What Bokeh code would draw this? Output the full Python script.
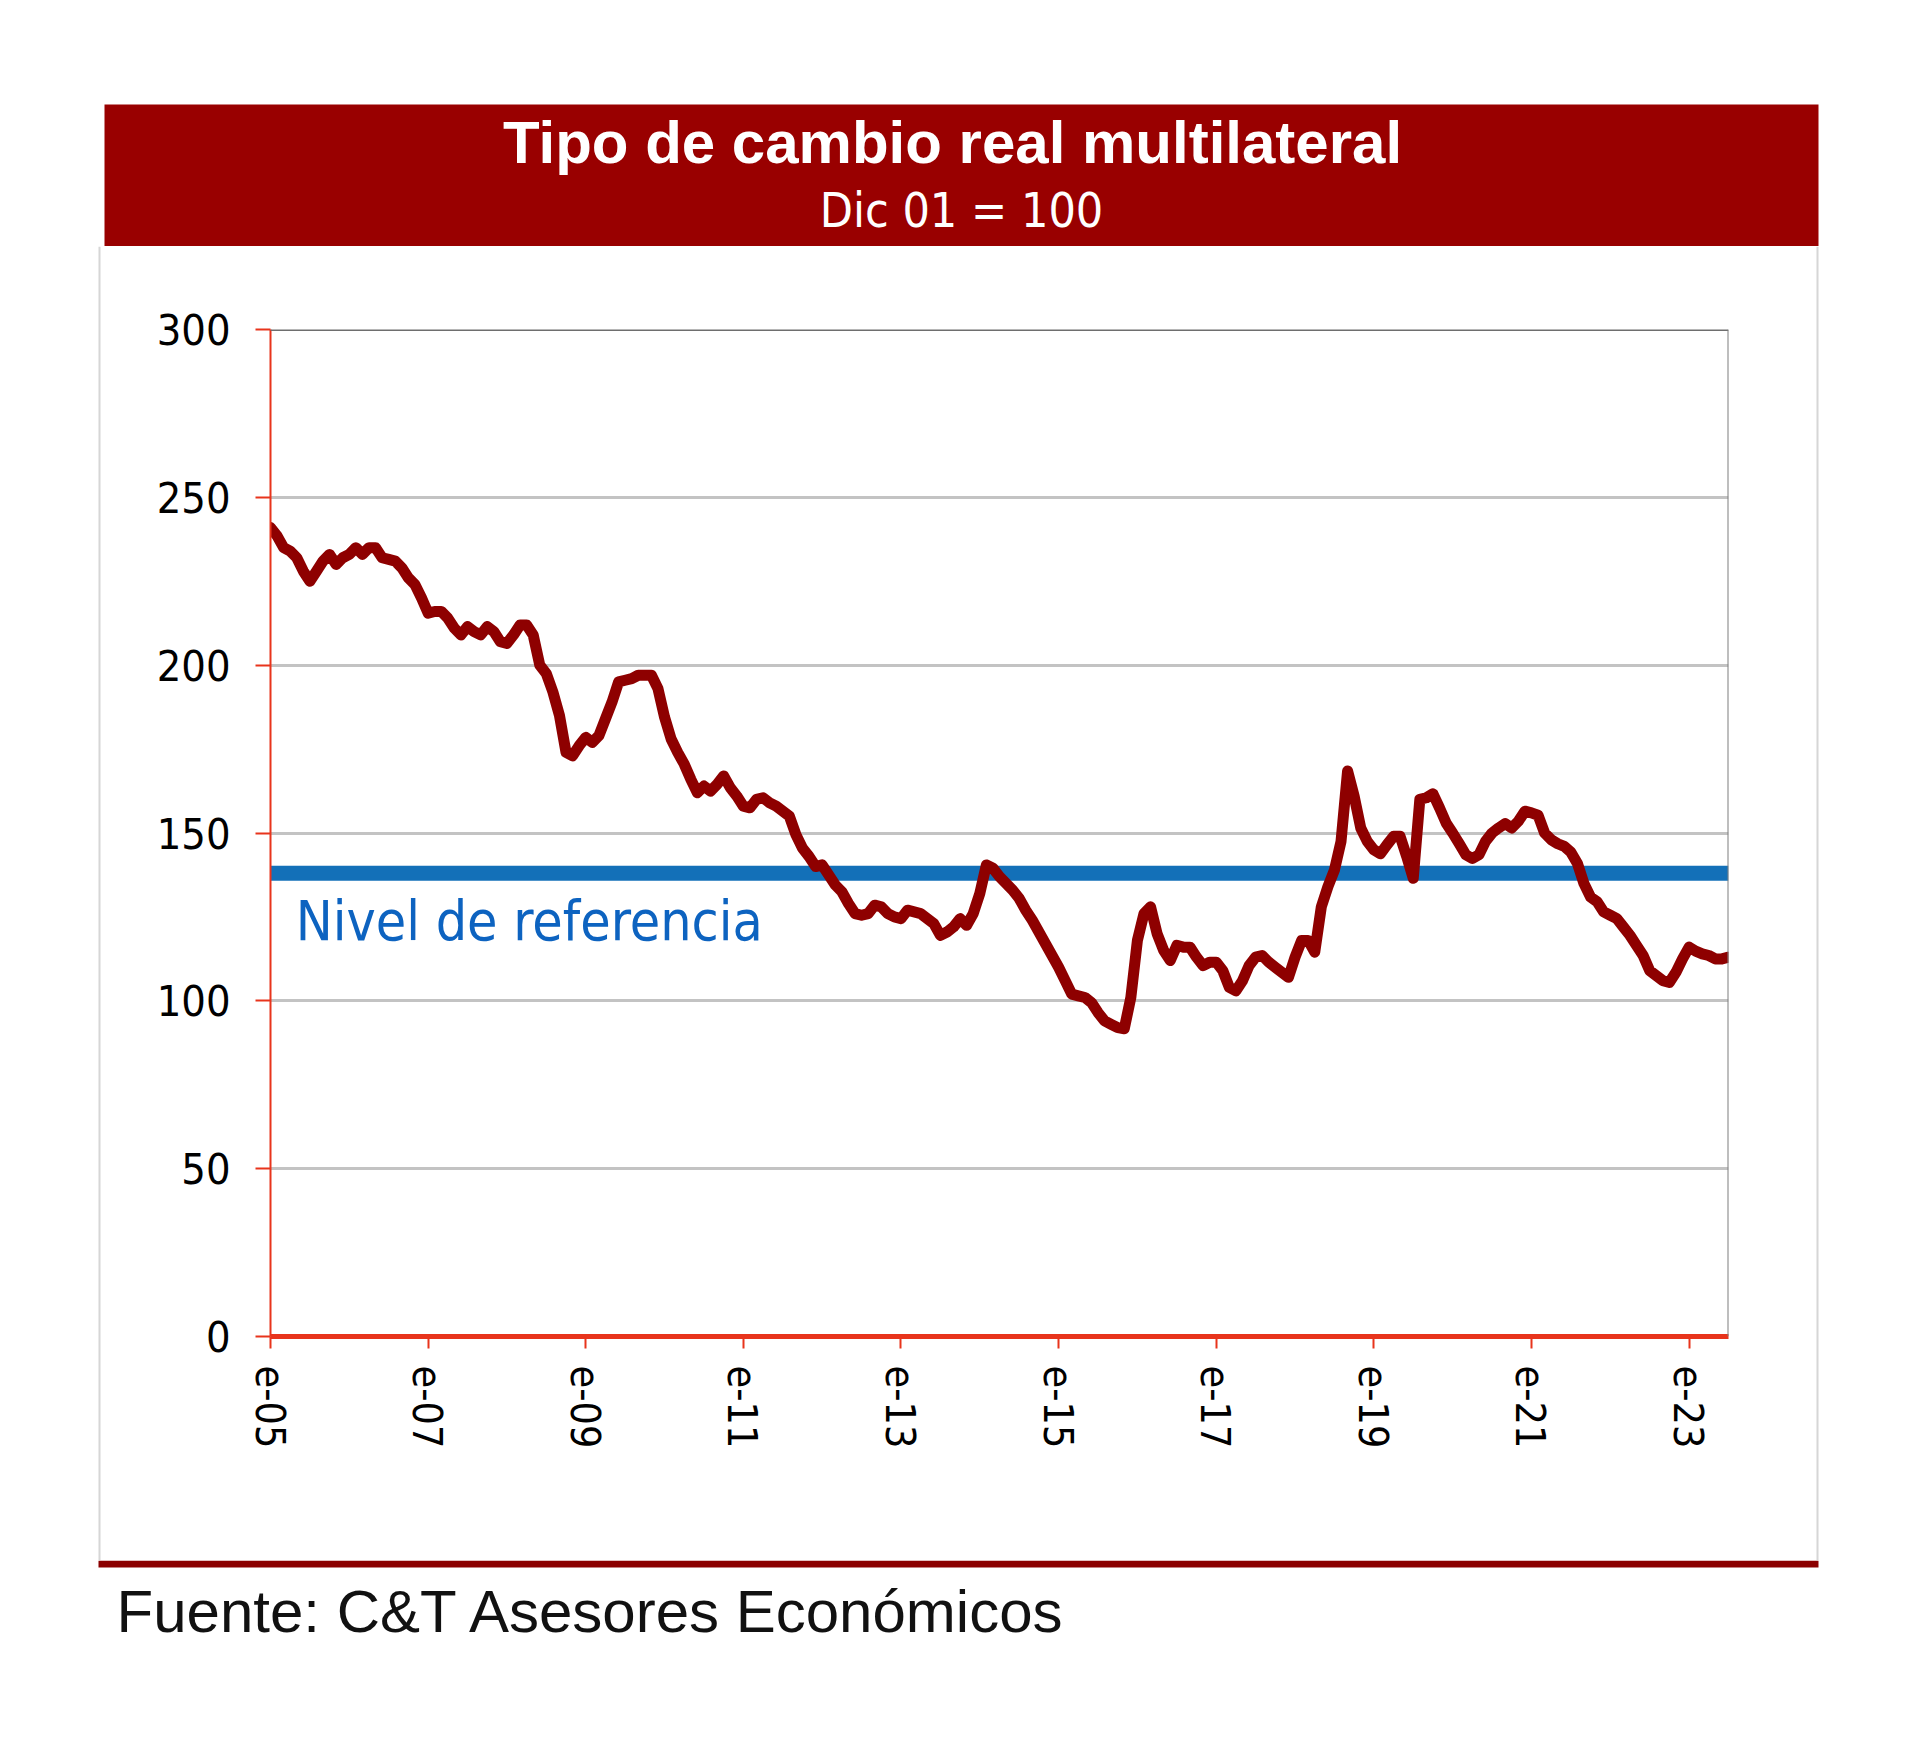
import pandas as pd
from bokeh.plotting import figure
from bokeh.models import Range1d, FixedTicker, Span
from bokeh.layouts import column, row
from bokeh.core.properties import value
from bokeh.embed import file_html
from bokeh.resources import INLINE

# ---------------- data ----------------
start_month = "2005-01"
tcrm = [
    241, 238.5, 235, 234, 232, 228, 225, 228, 231, 233, 230, 232,
    233, 235, 233, 235, 235, 232, 231.5, 231, 229, 226, 224, 220,
    215.5, 216, 216, 214, 211, 209, 211.5, 210, 209, 211.5, 210, 207,
    206.5, 209, 212, 212, 209, 200, 197.5, 192, 185, 174, 173, 176,
    178.5, 177, 179, 184, 189, 195, 195.5, 196, 197, 197, 197, 193,
    184.5, 178, 174, 170.5, 166, 162, 164, 162.5, 164.5, 167, 163.5, 161,
    158, 157.5, 160, 160.5, 159, 158, 156.5, 155, 149.5, 145.5, 143, 140,
    140.5, 137.5, 134.5, 132.5, 129, 126, 125.5, 126, 128.5, 128, 126, 125,
    124.5, 127, 126.5, 126, 124.5, 123, 119.5, 120.5, 122, 124.5, 122.5, 126,
    132, 140.5, 139.5, 137, 135, 133, 130.5, 127, 124, 120.5, 117, 113.5,
    110, 106, 102, 101.5, 101, 99.5, 96.5, 94, 93, 92, 91.7, 101,
    118, 126, 128, 120, 115, 112, 116.5, 116, 116, 113, 110.5, 111.5,
    111.5, 109, 104, 103, 106, 110.5, 113, 113.5, 111.5, 110, 108.5, 107,
    113, 118, 118, 114.5, 128, 134, 139, 147.5, 168.5, 161, 151.5, 147.5,
    145, 143.8, 146.5, 149, 149, 143, 136.5, 160, 160.5, 161.7, 157.5, 153,
    150, 146.8, 143.5, 142.4, 143.5, 147.5, 150, 151.5, 152.8, 151.5, 153.5, 156.5,
    156, 155.3, 150, 148, 146.8, 146, 144.3, 140.9, 134.9, 130.9, 129.5, 126.5,
    125.5, 124.5, 122, 119.5, 116.5, 113.5, 109, 107.5, 106, 105.5, 108.5, 112.5,
    116, 114.8, 114, 113.5, 112.5, 112.5, 113,
]
reference_level = 138
title_text = "Tipo de cambio real multilateral"
subtitle_text = "Dic 01 = 100"
source_text = "Fuente: C&T Asesores Económicos"
ref_label = "Nivel de referencia"
y_ticks = [0, 50, 100, 150, 200, 250, 300]
y_grid = [50, 100, 150, 200, 250]
x_tick_years = [2005, 2007, 2009, 2011, 2013, 2015, 2017, 2019, 2021, 2023]
x_tick_labels = ["e-05", "e-07", "e-09", "e-11", "e-13", "e-15", "e-17", "e-19", "e-21", "e-23"]

dates = pd.date_range(start_month, periods=len(tcrm), freq="MS")
xs = [d.year + (d.month - 1) / 12 for d in dates]

NARROW = "'DejaVu Sans Condensed', 'Liberation Sans Narrow', sans-serif"
SANS = "'Liberation Sans', Arial, sans-serif"
LINE_RED = "#8e0000"
BAND_RED = "#990000"
AXIS_RED = "#e8341c"
BLUE = "#1370b8"
BLUE_TXT = "#0d63c0"


def canvas(w, h, x0, y0):
    f = figure(width=w, height=h, x_range=Range1d(x0, x0 + w), y_range=Range1d(y0 + h, y0),
               output_backend="svg", toolbar_location=None, min_border=0,
               x_axis_location=None, y_axis_location=None, frame_align=False)
    f.grid.visible = False
    f.outline_line_color = None
    f.background_fill_color = "white"
    f.border_fill_color = "white"
    return f


# ---------------- top band ----------------
top = canvas(1904, 246, 0, 0)
top.quad(left=[104], right=[1818], top=[104], bottom=[246], fill_color=BAND_RED, line_color=None)
top.text(x=[952], y=[142], text=[title_text], text_font=value(SANS), text_font_size="60px",
         text_font_style="bold", text_color="white", text_align="center", text_baseline="alphabetic")
top.text(x=[961], y=[209], text=[subtitle_text], text_font=value(NARROW), text_font_size="48px",
         text_color="white", text_align="center", text_baseline="alphabetic")

# ---------------- side strips ----------------
left = canvas(140, 1314, 0, 246)
left.segment(x0=[99], y0=[246], x1=[99], y1=[1560], line_color="#d6d6d6", line_width=2)
right = canvas(114, 1314, 1790, 246)
right.segment(x0=[1817], y0=[246], x1=[1817], y1=[1560], line_color="#d6d6d6", line_width=2)

# ---------------- main chart ----------------
p = figure(width=1650, height=1314, x_range=Range1d(xs[0], xs[-1]), y_range=Range1d(0, 300),
           output_backend="svg", toolbar_location=None, frame_align=False,
           min_border_left=130, min_border_right=62, min_border_top=83, min_border_bottom=224)
p.outline_line_color = None
p.background_fill_color = "white"
p.border_fill_color = "white"

p.xgrid.visible = False
p.ygrid.ticker = FixedTicker(ticks=y_grid)
p.ygrid.grid_line_color = "#c3c3c3"
p.ygrid.grid_line_width = 3

p.yaxis.ticker = FixedTicker(ticks=y_ticks)
p.yaxis.axis_line_color = AXIS_RED
p.yaxis.axis_line_width = 2
p.yaxis.major_tick_line_color = AXIS_RED
p.yaxis.major_tick_line_width = 2
p.yaxis.major_tick_out = 15
p.yaxis.major_tick_in = 0
p.yaxis.minor_tick_line_color = None
p.yaxis.major_label_text_font = NARROW
p.yaxis.major_label_text_font_size = "43px"
p.yaxis.major_label_text_color = "black"
p.yaxis.major_label_standoff = 25

p.xaxis.ticker = FixedTicker(ticks=x_tick_years)
p.xaxis.major_label_overrides = {yr: lab for yr, lab in zip(x_tick_years, x_tick_labels)}
p.xaxis.major_label_orientation = "vertical"
p.xaxis.axis_line_color = AXIS_RED
p.xaxis.axis_line_width = 5
p.xaxis.major_tick_line_color = AXIS_RED
p.xaxis.major_tick_line_width = 2
p.xaxis.major_tick_out = 12
p.xaxis.major_tick_in = 0
p.xaxis.minor_tick_line_color = None
p.xaxis.major_label_text_font = NARROW
p.xaxis.major_label_text_font_size = "41px"
p.xaxis.major_label_text_color = "black"
p.xaxis.major_label_standoff = 17

p.add_layout(Span(location=300, dimension="width", line_color="#6e6e6e", line_width=3))
p.add_layout(Span(location=xs[-1], dimension="height", line_color="#7f7f7f", line_width=2))

p.line(x=[xs[0], xs[-1]], y=[reference_level, reference_level], line_color=BLUE, line_width=15)
p.line(x=xs, y=tcrm, line_color=LINE_RED, line_width=11, line_join="round", line_cap="round")
p.text(x=[2005.32], y=[123.8], text=[ref_label], text_font=value(NARROW), text_font_size="55px",
       text_color=BLUE_TXT, text_baseline="alphabetic", text_align="left")

# ---------------- bottom ----------------
bottom = canvas(1904, 168, 0, 1560)
bottom.quad(left=[98], right=[1818], top=[1560], bottom=[1567], fill_color="#8b0000", line_color=None)
bottom.text(x=[116], y=[1611], text=[source_text], text_font=value(SANS), text_font_size="60px",
            text_color="#111111", text_align="left", text_baseline="alphabetic")

layout = column(top, row(left, p, right, spacing=0), bottom, spacing=0)

open("out.html", "w").write(file_html(layout, INLINE))
